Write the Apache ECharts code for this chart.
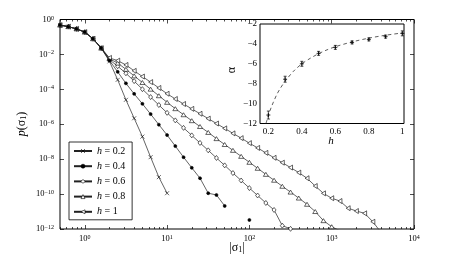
<!DOCTYPE html>
<html><head><meta charset="utf-8">
<script src="https://cdn.jsdelivr.net/npm/echarts@6/dist/echarts.min.js"></script>
<style>html,body{margin:0;padding:0;background:#fff}#c{width:457px;height:259px}</style>
</head><body><div id="c"></div>
<script>
// |sigma_1| bin centres (logarithmic bins, 10 per decade)
const sigmaBins = [0.501,0.631,0.794,1,1.259,1.585,1.995,2.512,3.162,3.981,5.012,6.31,7.943,10,12.59,15.85,19.95,25.12,31.62,39.81,50.12,63.1,79.43,100,125.9,158.5,199.5,251.2,316.2,398.1,501.2,631,794.3,1000,1259,1585,1995,2512,3162,3981];
const seriesNames = ['h = 0.2','h = 0.4','h = 0.6','h = 0.8','h = 1'];
const pH02 = [0.48,0.39,0.29,0.19,0.079,0.023,4.0e-3,3.5e-4,2.5e-5,2.2e-6,1.95e-7,1.3e-8,9.3e-10,1.12e-10];
const pH04 = [0.48,0.39,0.29,0.19,0.079,0.023,4.5e-3,1.0e-3,2.2e-4,5.5e-5,1.48e-5,3.8e-6,9.5e-7,2.4e-7,5.6e-8,1.3e-8,3.2e-9,8.1e-10,1.12e-10,8.9e-11,2.1e-11,null,null,3.3e-12];
const pH06 = [0.48,0.39,0.29,0.19,0.079,0.023,5.0e-3,2.1e-3,8.3e-4,2.95e-4,1.02e-4,3.6e-5,1.26e-5,4.5e-6,1.66e-6,6.2e-7,2.3e-7,8.5e-8,3.2e-8,1.17e-8,4.4e-9,1.6e-9,6.0e-10,2.2e-10,8.3e-11,3.1e-11,1.23e-11,1.55e-12,1.02e-12];
const pH08 = [0.48,0.39,0.29,0.19,0.079,0.023,5.6e-3,3.2e-3,1.4e-3,5.9e-4,2.45e-4,1.02e-4,4.3e-5,1.8e-5,7.8e-6,3.5e-6,1.6e-6,7.4e-7,3.4e-7,1.5e-7,6.9e-8,3.2e-8,1.45e-8,6.6e-9,3.0e-9,1.35e-9,6.2e-10,2.8e-10,1.3e-10,5.9e-11,2.6e-11,1.0e-11,3.0e-12,1.35e-12,7.9e-13];
const pH1 = [0.48,0.39,0.29,0.19,0.079,0.023,6.3e-3,4.4e-3,2.5e-3,1.15e-3,5.4e-4,2.6e-4,1.2e-4,5.6e-5,2.8e-5,1.45e-5,7.6e-6,4.0e-6,2.1e-6,1.1e-6,5.8e-7,3.0e-7,1.6e-7,8.3e-8,4.4e-8,2.3e-8,1.2e-8,6.3e-9,3.3e-9,1.7e-9,8.1e-10,2.9e-10,1.1e-10,5.8e-11,4.0e-11,1.55e-11,1.07e-11,7.9e-12,2.6e-12,6.3e-13];
// main axis ticks
const xMajorTicks = [1,10,100,1000,10000];
const yMajorTicks = [1e-12,1e-10,1e-8,1e-6,1e-4,1e-2,1];
// inset: exponent alpha vs h
const hVals = [0.2,0.3,0.4,0.5,0.6,0.7,0.8,0.9,1.0];
const alphaVals = [-11.15,-7.55,-6.0,-4.95,-4.35,-3.85,-3.55,-3.27,-2.94];
const alphaErr = [0.4,0.3,0.25,0.2,0.2,0.15,0.15,0.15,0.25];
const fitH = [0.186,0.19,0.2,0.21,0.22,0.23,0.25,0.27,0.3,0.35,0.4,0.45,0.5,0.55,0.6,0.7,0.8,0.9,1.0];
const fitAlpha = [-12.0,-11.75,-11.2,-10.7,-10.25,-9.85,-9.1,-8.5,-7.75,-6.75,-6.0,-5.45,-4.98,-4.6,-4.28,-3.8,-3.42,-3.13,-2.9];
const insetXTicks = [0.2,0.4,0.6,0.8,1];

const xMinorTicks = [];
[0.1,1,10,100,1000].forEach(d=>{for(let m=2;m<=9;m++){const v=+(m*d).toPrecision(3); if(v>=0.5) xMinorTicks.push(v);}});

const FF = 'Liberation Serif';
const supRich = {
  b:{fontFamily:FF,fontSize:8.5,color:'#000',lineHeight:9,padding:[3,0,0,0],verticalAlign:'bottom'},
  s:{fontFamily:FF,fontSize:6,color:'#000',lineHeight:6,verticalAlign:'top'}
};
function pow10Label(v){
  const e = Math.round(Math.log10(v));
  return '{b|10}{s|' + (e<0?'\u2212'+(-e):e) + '}';
}
function mkSeries(name, vals, symbol, size, rotate, fill, z){
  const data = [];
  vals.forEach((v,i)=>{ data.push([sigmaBins[i], v===null?'-':v]); });
  return {
    type:'line', name, data, xAxisIndex:0, yAxisIndex:0,
    symbol, symbolSize:size, symbolRotate:rotate, showAllSymbol:true,
    connectNulls:false, clip:true, animation:false,
    lineStyle:{color:'#222', width:0.7},
    itemStyle:{color:fill, borderColor:'#000', borderWidth:0.6},
    emphasis:{disabled:true}, z:z
  };
}
const XPATH = 'path://M0,0L10,10M10,0L0,10';
const PLUS = 'path://M5,0L5,10M0,5L10,5';

const mainGrid = {left:60, top:19.5, right:43, bottom:30, show:true, borderColor:'#000', borderWidth:1, backgroundColor:'transparent'};
const insetGrid = {left:260, top:24, width:144, height:99.5, show:true, borderColor:'#000', borderWidth:1, backgroundColor:'#fff', z:1};

function logX(gridIndex, pos, ticks, len, labels){
  return {type:'log', gridIndex, position:pos, min:0.5, max:10001, logBase:10,
    axisLine:{show:false}, splitLine:{show:false},
    axisTick:{show:true, inside:true, length:len, customValues:ticks, lineStyle:{color:'#000', width:0.7}},
    axisLabel:{show:labels, customValues:ticks, margin:5, formatter:pow10Label, rich:supRich}};
}
const option = {
  animation:false,
  backgroundColor:'#fff',
  grid:[mainGrid, insetGrid],
  xAxis:[
    logX(0,'bottom',xMajorTicks,4,true),
    logX(0,'bottom',xMinorTicks,2,false),
    logX(0,'top',xMajorTicks,4,false),
    logX(0,'top',xMinorTicks,2,false),
    {type:'value', gridIndex:1, position:'bottom', min:0.15, max:1.01,
      axisLine:{show:false}, splitLine:{show:false},
      axisTick:{inside:true, length:3, customValues:insetXTicks, lineStyle:{color:'#000',width:0.7}},
      axisLabel:{customValues:insetXTicks, margin:4, color:'#000', fontFamily:FF, fontSize:9, formatter:v=>String(v)}},
    {type:'value', gridIndex:1, position:'top', min:0.15, max:1.01,
      axisLine:{show:false}, splitLine:{show:false},
      axisTick:{inside:true, length:3, customValues:insetXTicks, lineStyle:{color:'#000',width:0.7}},
      axisLabel:{show:false}}
  ],
  yAxis:[
    {type:'log', gridIndex:0, position:'left', min:0.999e-12, max:1, logBase:10,
      axisLine:{show:false}, splitLine:{show:false},
      axisTick:{inside:true, length:4, customValues:yMajorTicks, lineStyle:{color:'#000',width:0.7}},
      axisLabel:{customValues:yMajorTicks, margin:6, formatter:pow10Label, rich:supRich}},
    {type:'log', gridIndex:0, position:'right', min:0.999e-12, max:1, logBase:10,
      axisLine:{show:false}, splitLine:{show:false},
      axisTick:{inside:true, length:4, customValues:yMajorTicks, lineStyle:{color:'#000',width:0.7}},
      axisLabel:{show:false}},
    {type:'value', gridIndex:1, position:'left', min:-12, max:-2, interval:2,
      axisLine:{show:false}, splitLine:{show:false},
      axisTick:{inside:true, length:3, lineStyle:{color:'#000',width:0.7}},
      axisLabel:{margin:3, color:'#000', fontFamily:FF, fontSize:9, formatter:v=>v<0?'\u2212'+(-v):String(v)}},
    {type:'value', gridIndex:1, position:'right', min:-12, max:-2, interval:2,
      axisLine:{show:false}, splitLine:{show:false},
      axisTick:{inside:true, length:3, lineStyle:{color:'#000',width:0.7}},
      axisLabel:{show:false}}
  ],
  legend:{
    left:69, top:142, orient:'vertical', itemWidth:18, itemHeight:5, itemGap:5.2,
    padding:[4,7,3,4], borderColor:'#000', borderWidth:0.8, backgroundColor:'#fff',
    selectedMode:false, data:seriesNames,
    itemStyle:{borderWidth:0.6},
    formatter:n=>'{i|h}'+n.slice(1),
    textStyle:{fontFamily:FF, fontSize:10, color:'#000', rich:{i:{fontFamily:FF,fontSize:10,fontStyle:'italic',color:'#000'}}}
  },
  series:[
    mkSeries(seriesNames[0], pH02, XPATH, 4, 0, 'none', 4),
    mkSeries(seriesNames[1], pH04, 'circle', 3, 0, '#000', 5),
    mkSeries(seriesNames[2], pH06, 'diamond', [4,5], 0, '#fff', 3),
    mkSeries(seriesNames[3], pH08, 'triangle', [5,4], 0, '#fff', 3),
    mkSeries(seriesNames[4], pH1, 'triangle', [5,4], 90, '#fff', 3),
    {type:'line', name:'fit', xAxisIndex:4, yAxisIndex:2, data:fitH.map((h,i)=>[h,fitAlpha[i]]),
      symbol:'none', smooth:0.3, clip:true, lineStyle:{color:'#333', width:0.8, type:[3.5,3]}, z:4, emphasis:{disabled:true}},
    {type:'custom', name:'err', xAxisIndex:4, yAxisIndex:2, z:5,
      data:hVals.map((h,i)=>[h, alphaVals[i]-alphaErr[i], alphaVals[i]+alphaErr[i]]),
      encode:{x:0, y:[1,2]},
      renderItem:(params, api)=>{
        const a = api.coord([api.value(0), api.value(1)]);
        const b = api.coord([api.value(0), api.value(2)]);
        const c = 1.5, st = {stroke:'#000', lineWidth:0.7};
        return {type:'group', children:[
          {type:'line', shape:{x1:a[0],y1:a[1],x2:b[0],y2:b[1]}, style:st},
          {type:'line', shape:{x1:a[0]-c,y1:a[1],x2:a[0]+c,y2:a[1]}, style:st},
          {type:'line', shape:{x1:b[0]-c,y1:b[1],x2:b[0]+c,y2:b[1]}, style:st}
        ]};
      }},
    {type:'scatter', name:'alpha', xAxisIndex:4, yAxisIndex:2, z:6, data:hVals.map((h,i)=>[h,alphaVals[i]]),
      symbol:PLUS, symbolSize:4, itemStyle:{color:'#000', borderColor:'#000', borderWidth:1}, emphasis:{disabled:true}}
  ],
  graphic:[
    {type:'text', x:22, y:124, rotation:Math.PI/2, style:{text:'{it|p}{n|(\u03c3}{sb|1}{n|)}', align:'center', verticalAlign:'middle',
      rich:{it:{fontFamily:FF,fontSize:12,fontStyle:'italic',lineHeight:12,verticalAlign:'top',fill:'#000'},
            n:{fontFamily:FF,fontSize:12,lineHeight:12,verticalAlign:'top',fill:'#000'},
            sb:{fontFamily:FF,fontSize:8,lineHeight:8,padding:[6,0,0,0],verticalAlign:'bottom',fill:'#000'}}}},
    {type:'text', x:237, y:248, style:{text:'{n||\u03c3}{sb|1}{n||}', align:'center', verticalAlign:'middle',
      rich:{n:{fontFamily:FF,fontSize:12,lineHeight:12,verticalAlign:'top',fill:'#000'},
            sb:{fontFamily:FF,fontSize:8,lineHeight:8,padding:[6,0,0,0],verticalAlign:'bottom',fill:'#000'}}}},
    {type:'text', x:232, y:70, rotation:Math.PI/2, style:{text:'\u03b1', fontFamily:FF, fontSize:12, fill:'#000', align:'center', verticalAlign:'middle'}},
    {type:'text', x:331, y:141, style:{text:'h', fontFamily:FF, fontSize:11, fontStyle:'italic', fill:'#000', align:'center', verticalAlign:'middle'}}
  ]
};
const chart = echarts.init(document.getElementById('c'), null, {renderer:'canvas'});
chart.setOption(option);
</script></body></html>
